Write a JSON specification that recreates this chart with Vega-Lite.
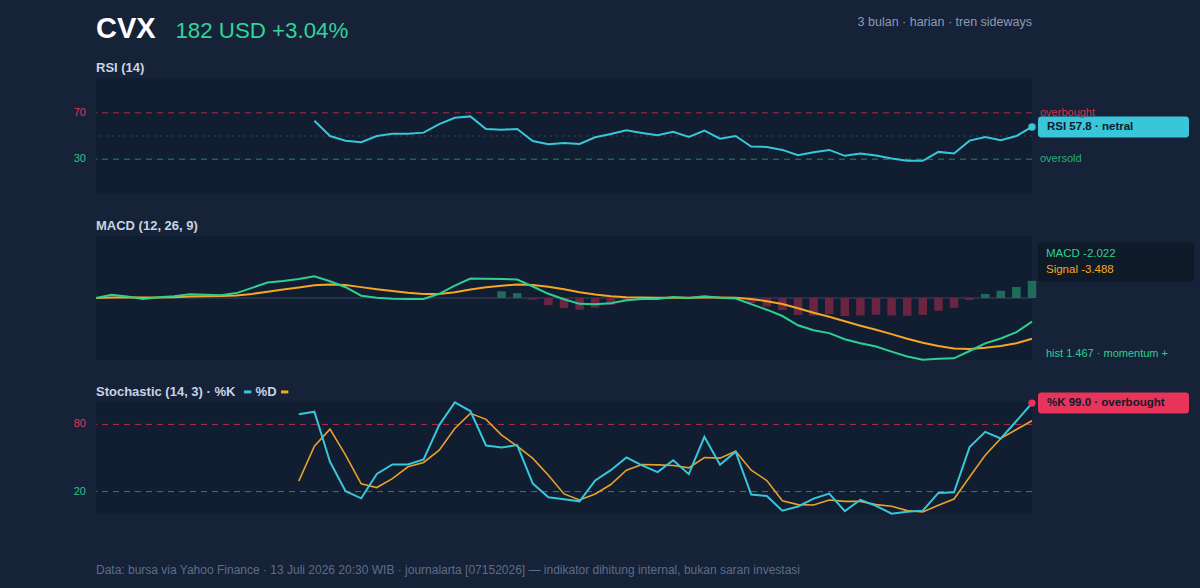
{
  "$schema": "https://vega.github.io/schema/vega-lite/v6.json",
  "autosize": {"type": "none"},
  "padding": {"left": 96, "top": 78, "right": 1104, "bottom": 510},
  "background": "#152238",
  "bounds": "flush",
  "spacing": 42,
  "config": {"view": {"fill": "#111d30", "stroke": null}, "font": "Liberation Sans", "text": {"font": "Liberation Sans"}, "scale": {"continuousPadding": 0}},
  "datasets": {
    "s": [
      {"i":0,"rsi":null,"macd":0,"signal":0,"hist":null,"k":null,"d":null},
      {"i":1,"rsi":null,"macd":0.28,"signal":0.05,"hist":null,"k":null,"d":null},
      {"i":2,"rsi":null,"macd":0.12,"signal":0.07,"hist":null,"k":null,"d":null},
      {"i":3,"rsi":null,"macd":-0.08,"signal":0.04,"hist":null,"k":null,"d":null},
      {"i":4,"rsi":null,"macd":0.06,"signal":0.05,"hist":null,"k":null,"d":null},
      {"i":5,"rsi":null,"macd":0.15,"signal":0.07,"hist":null,"k":null,"d":null},
      {"i":6,"rsi":null,"macd":0.32,"signal":0.12,"hist":null,"k":null,"d":null},
      {"i":7,"rsi":null,"macd":0.28,"signal":0.15,"hist":null,"k":null,"d":null},
      {"i":8,"rsi":null,"macd":0.24,"signal":0.17,"hist":null,"k":null,"d":null},
      {"i":9,"rsi":null,"macd":0.42,"signal":0.22,"hist":null,"k":null,"d":null},
      {"i":10,"rsi":null,"macd":0.87,"signal":0.35,"hist":null,"k":null,"d":null},
      {"i":11,"rsi":null,"macd":1.33,"signal":0.54,"hist":null,"k":null,"d":null},
      {"i":12,"rsi":null,"macd":1.45,"signal":0.72,"hist":null,"k":null,"d":null},
      {"i":13,"rsi":null,"macd":1.62,"signal":0.9,"hist":null,"k":89,"d":29.3},
      {"i":14,"rsi":63.1,"macd":1.85,"signal":1.09,"hist":null,"k":91.3,"d":60.6},
      {"i":15,"rsi":50,"macd":1.43,"signal":1.16,"hist":null,"k":46.6,"d":75.8},
      {"i":16,"rsi":46,"macd":0.92,"signal":1.11,"hist":null,"k":20.3,"d":52.5},
      {"i":17,"rsi":44.6,"macd":0.2,"signal":0.93,"hist":null,"k":14,"d":26.9},
      {"i":18,"rsi":50,"macd":0.03,"signal":0.75,"hist":null,"k":35.8,"d":23.6},
      {"i":19,"rsi":52,"macd":-0.06,"signal":0.59,"hist":null,"k":44.2,"d":31.6},
      {"i":20,"rsi":52,"macd":-0.08,"signal":0.45,"hist":null,"k":44.2,"d":42.1},
      {"i":21,"rsi":52.9,"macd":-0.08,"signal":0.35,"hist":null,"k":48.7,"d":46},
      {"i":22,"rsi":60.3,"macd":0.36,"signal":0.35,"hist":null,"k":79.4,"d":57},
      {"i":23,"rsi":65.7,"macd":1.06,"signal":0.49,"hist":null,"k":99.7,"d":76.4},
      {"i":24,"rsi":66.9,"macd":1.66,"signal":0.73,"hist":null,"k":91.9,"d":89.9},
      {"i":25,"rsi":56,"macd":1.65,"signal":0.91,"hist":null,"k":61.2,"d":84.5},
      {"i":26,"rsi":55.4,"macd":1.62,"signal":1.05,"hist":0.57,"k":59.4,"d":70.4},
      {"i":27,"rsi":56,"macd":1.58,"signal":1.16,"hist":0.42,"k":61.5,"d":60.6},
      {"i":28,"rsi":45.7,"macd":0.98,"signal":1.12,"hist":-0.14,"k":27.2,"d":49.6},
      {"i":29,"rsi":42.9,"macd":0.36,"signal":0.97,"hist":-0.61,"k":14.9,"d":34.6},
      {"i":30,"rsi":44,"macd":-0.11,"signal":0.75,"hist":-0.86,"k":13.1,"d":17.9},
      {"i":31,"rsi":43.1,"macd":-0.5,"signal":0.5,"hist":-1.0,"k":11.3,"d":12.5},
      {"i":32,"rsi":48.9,"macd":-0.54,"signal":0.29,"hist":-0.83,"k":29.9,"d":17.9},
      {"i":33,"rsi":51.7,"macd":-0.45,"signal":0.14,"hist":-0.59,"k":39.1,"d":26.3},
      {"i":34,"rsi":54.9,"macd":-0.2,"signal":0.07,"hist":-0.27,"k":50.5,"d":39.1},
      {"i":35,"rsi":52.6,"macd":-0.08,"signal":0.04,"hist":-0.12,"k":43.4,"d":44.2},
      {"i":36,"rsi":50.6,"macd":-0.08,"signal":0.02,"hist":-0.1,"k":37.4,"d":43.9},
      {"i":37,"rsi":53.7,"macd":0.08,"signal":0.03,"hist":0.05,"k":48,"d":43.3},
      {"i":38,"rsi":49.1,"macd":0,"signal":0.02,"hist":-0.02,"k":35.6,"d":41.2},
      {"i":39,"rsi":54.6,"macd":0.15,"signal":0.05,"hist":0.1,"k":68.9,"d":50.4},
      {"i":40,"rsi":47.7,"macd":0.02,"signal":0.04,"hist":-0.02,"k":44,"d":49.9},
      {"i":41,"rsi":50,"macd":-0.04,"signal":0.03,"hist":-0.07,"k":55.7,"d":56.1},
      {"i":42,"rsi":40.9,"macd":-0.52,"signal":-0.08,"hist":-0.44,"k":17.4,"d":39.1},
      {"i":43,"rsi":40.6,"macd":-1.0,"signal":-0.27,"hist":-0.73,"k":16,"d":29.9},
      {"i":44,"rsi":38,"macd":-1.54,"signal":-0.52,"hist":-1.02,"k":2.9,"d":11.9},
      {"i":45,"rsi":33.4,"macd":-2.33,"signal":-0.88,"hist":-1.45,"k":6.7,"d":8.4},
      {"i":46,"rsi":36,"macd":-2.76,"signal":-1.26,"hist":-1.5,"k":13.7,"d":8.1},
      {"i":47,"rsi":38,"macd":-3.0,"signal":-1.61,"hist":-1.39,"k":18.2,"d":12.5},
      {"i":48,"rsi":32.9,"macd":-3.53,"signal":-1.99,"hist":-1.54,"k":2.6,"d":11.3},
      {"i":49,"rsi":34.9,"macd":-3.86,"signal":-2.37,"hist":-1.49,"k":12.7,"d":11.3},
      {"i":50,"rsi":33.1,"macd":-4.15,"signal":-2.72,"hist":-1.43,"k":7.3,"d":8.4},
      {"i":51,"rsi":30.6,"macd":-4.58,"signal":-3.09,"hist":-1.49,"k":0.3,"d":6.9},
      {"i":52,"rsi":28.6,"macd":-5.0,"signal":-3.48,"hist":-1.52,"k":2,"d":3},
      {"i":53,"rsi":28.6,"macd":-5.27,"signal":-3.83,"hist":-1.44,"k":3,"d":1.8},
      {"i":54,"rsi":36.3,"macd":-5.2,"signal":-4.11,"hist":-1.09,"k":18.8,"d":7.8},
      {"i":55,"rsi":34.9,"macd":-5.16,"signal":-4.32,"hist":-0.84,"k":19.4,"d":13.4},
      {"i":56,"rsi":46,"macd":-4.53,"signal":-4.36,"hist":-0.17,"k":59.7,"d":33.1},
      {"i":57,"rsi":49.1,"macd":-3.88,"signal":-4.26,"hist":0.34,"k":73.3,"d":52.5},
      {"i":58,"rsi":46.3,"macd":-3.46,"signal":-4.1,"hist":0.62,"k":67.4,"d":67.5},
      {"i":59,"rsi":50,"macd":-2.92,"signal":-3.87,"hist":0.94,"k":83,"d":75.5},
      {"i":60,"rsi":57.8,"macd":-2.022,"signal":-3.488,"hist":1.467,"k":99,"d":83.3}
    ]
  },
  "vconcat": [
    {
      "width": 936,
      "height": 116,
      "layer": [
        {
          "data": {"values": [{"level": 70}, {"level": 30}]},
          "mark": {"type": "rule", "strokeDash": [6, 5], "strokeWidth": 1},
          "encoding": {
            "y": {"field": "level", "type": "quantitative", "scale": {"domain": [0, 100], "nice": false, "zero": false}, "axis": null},
            "stroke": {"condition": {"test": "datum.level > 50", "value": "#a82d4b"}, "value": "#1f8a66"}
          }
        },
        {
          "data": {"values": [{"level": 50}]},
          "mark": {"type": "rule", "strokeDash": [2, 4], "strokeWidth": 1.5, "stroke": "#2c3b52"},
          "encoding": {"y": {"field": "level", "type": "quantitative", "axis": null}}
        },
        {
          "data": {"name": "s"},
          "mark": {"type": "line", "stroke": "#38c6d8", "strokeWidth": 2},
          "encoding": {
            "x": {"field": "i", "type": "quantitative", "scale": {"domain": [0, 60], "nice": false, "zero": false}, "axis": null},
            "y": {"field": "rsi", "type": "quantitative", "axis": null}
          }
        },
        {
          "data": {"name": "s"},
          "transform": [{"filter": "datum.i == 60"}],
          "mark": {"type": "circle", "size": 55, "fill": "#38c6d8", "opacity": 1},
          "encoding": {
            "x": {"field": "i", "type": "quantitative", "axis": null},
            "y": {"field": "rsi", "type": "quantitative", "axis": null}
          }
        },
        {
          "data": {"values": [{"i": 60, "rsi": 57.8, "label": "RSI 57.8 · netral"}]},
          "mark": {"type": "point", "shape": "M0.9,-1.05H15.4A0.3,0.3,0,0,1,15.7,-0.75V0.75A0.3,0.3,0,0,1,15.4,1.05H0.9A0.3,0.3,0,0,1,0.6,0.75V-0.75A0.3,0.3,0,0,1,0.9,-1.05Z", "size": 400, "filled": true, "fill": "#38c6d8", "opacity": 1, "strokeWidth": 0},
          "encoding": {
            "x": {"field": "i", "type": "quantitative", "axis": null},
            "y": {"field": "rsi", "type": "quantitative", "axis": null}
          }
        },
        {
          "data": {"values": [{"i": 60, "rsi": 57.8, "label": "RSI 57.8 · netral"}]},
          "mark": {"type": "text", "align": "left", "baseline": "middle", "dx": 15, "fontSize": 11.5, "fontWeight": "bold", "fill": "#0e1a2b"},
          "encoding": {
            "x": {"field": "i", "type": "quantitative", "axis": null},
            "y": {"field": "rsi", "type": "quantitative", "axis": null},
            "text": {"field": "label"}
          }
        },
        {
          "data": {"values": [{"level": 70, "label": "overbought"}, {"level": 30, "label": "oversold"}]},
          "mark": {"type": "text", "align": "left", "baseline": "middle", "dx": 8, "fontSize": 11},
          "encoding": {
            "x": {"datum": 60},
            "y": {"field": "level", "type": "quantitative", "axis": null},
            "text": {"field": "label"},
            "fill": {"condition": {"test": "datum.level > 50", "value": "#d3334f"}, "value": "#2aae7c"}
          }
        },
        {
          "data": {"values": [{"level": 70, "label": "70"}, {"level": 30, "label": "30"}]},
          "mark": {"type": "text", "align": "right", "baseline": "middle", "dx": -10, "fontSize": 11},
          "encoding": {
            "x": {"datum": 0},
            "y": {"field": "level", "type": "quantitative", "axis": null},
            "text": {"field": "label"},
            "fill": {"condition": {"test": "datum.level > 50", "value": "#e0365a"}, "value": "#2ec28a"}
          }
        },
        {
          "data": {"values": [{"t": "CVX"}]},
          "mark": {"type": "text", "align": "left", "baseline": "alphabetic", "fontSize": 29, "fontWeight": "bold", "fill": "#ffffff"},
          "encoding": {"x": {"datum": 0}, "y": {"datum": 134.7}, "text": {"field": "t"}}
        },
        {
          "data": {"values": [{"t": "182 USD +3.04%"}]},
          "mark": {"type": "text", "align": "left", "baseline": "alphabetic", "fontSize": 22.3, "fill": "#34d399"},
          "encoding": {"x": {"datum": 5.09}, "y": {"datum": 134.7}, "text": {"field": "t"}}
        },
        {
          "data": {"values": [{"t": "3 bulan · harian · tren sideways"}]},
          "mark": {"type": "text", "align": "right", "baseline": "alphabetic", "fontSize": 12.5, "fill": "#8d9bb2"},
          "encoding": {"x": {"datum": 60}, "y": {"datum": 144.8}, "text": {"field": "t"}}
        },
        {
          "data": {"values": [{"t": "RSI (14)"}]},
          "mark": {"type": "text", "align": "left", "baseline": "alphabetic", "fontSize": 13, "fontWeight": "bold", "fill": "#c9d3e3"},
          "encoding": {"x": {"datum": 0}, "y": {"datum": 105.2}, "text": {"field": "t"}}
        }
      ]
    },
    {
      "width": 936,
      "height": 124,
      "layer": [
        {
          "data": {"values": [{"z": 0}]},
          "mark": {"type": "rule", "stroke": "#2a3a52", "strokeWidth": 1.5},
          "encoding": {"y": {"field": "z", "type": "quantitative", "scale": {"domain": [-5.3, 5.3], "nice": false, "zero": false}, "axis": null}}
        },
        {
          "data": {"name": "s"},
          "transform": [{"filter": "datum.hist != null"}],
          "mark": {"type": "bar", "size": 8.5},
          "encoding": {
            "x": {"field": "i", "type": "quantitative", "scale": {"domain": [0, 60], "nice": false, "zero": false}, "axis": null},
            "y": {"field": "hist", "type": "quantitative", "axis": null},
            "y2": {"datum": 0},
            "fill": {"condition": {"test": "datum.hist > 0", "value": "#1f6c5b"}, "value": "#6a2641"}
          }
        },
        {
          "data": {"name": "s"},
          "mark": {"type": "line", "stroke": "#f5a623", "strokeWidth": 2},
          "encoding": {
            "x": {"field": "i", "type": "quantitative", "axis": null},
            "y": {"field": "signal", "type": "quantitative", "axis": null}
          }
        },
        {
          "data": {"name": "s"},
          "mark": {"type": "line", "stroke": "#2fcf91", "strokeWidth": 2},
          "encoding": {
            "x": {"field": "i", "type": "quantitative", "axis": null},
            "y": {"field": "macd", "type": "quantitative", "axis": null}
          }
        },
        {
          "data": {"values": [{"box": "legend"}]},
          "mark": {"type": "rect", "fill": "#0f1a29", "cornerRadius": 3},
          "encoding": {"x": {"datum": 60.385}, "x2": {"datum": 70.385}, "y": {"datum": 4.76}, "y2": {"datum": 1.39}}
        },
        {
          "data": {"values": [{"t": "MACD -2.022"}]},
          "mark": {"type": "text", "align": "left", "baseline": "middle", "dx": 14, "fontSize": 11.5, "fill": "#2fcf91"},
          "encoding": {"x": {"datum": 60}, "y": {"datum": 3.76}, "text": {"field": "t"}}
        },
        {
          "data": {"values": [{"t": "Signal -3.488"}]},
          "mark": {"type": "text", "align": "left", "baseline": "middle", "dx": 14, "fontSize": 11.5, "fill": "#f5a623"},
          "encoding": {"x": {"datum": 60}, "y": {"datum": 2.39}, "text": {"field": "t"}}
        },
        {
          "data": {"values": [{"t": "hist 1.467 · momentum +"}]},
          "mark": {"type": "text", "align": "left", "baseline": "middle", "dx": 14, "fontSize": 11, "fill": "#2fcf91"},
          "encoding": {"x": {"datum": 60}, "y": {"datum": -4.81}, "text": {"field": "t"}}
        },
        {
          "data": {"values": [{"t": "MACD (12, 26, 9)"}]},
          "mark": {"type": "text", "align": "left", "baseline": "alphabetic", "fontSize": 13, "fontWeight": "bold", "fill": "#c9d3e3"},
          "encoding": {"x": {"datum": 0}, "y": {"datum": 5.81}, "text": {"field": "t"}}
        }
      ]
    },
    {
      "width": 936,
      "height": 112,
      "layer": [
        {
          "data": {"values": [{"level": 80}, {"level": 20}]},
          "mark": {"type": "rule", "strokeDash": [6, 5], "strokeWidth": 1},
          "encoding": {
            "y": {"field": "level", "type": "quantitative", "scale": {"domain": [0, 100], "nice": false, "zero": false}, "axis": null},
            "stroke": {"condition": {"test": "datum.level > 50", "value": "#b8304f"}, "value": "#1f8a66"}
          }
        },
        {
          "data": {"name": "s"},
          "mark": {"type": "line", "stroke": "#e8a22c", "strokeWidth": 1.6},
          "encoding": {
            "x": {"field": "i", "type": "quantitative", "scale": {"domain": [0, 60], "nice": false, "zero": false}, "axis": null},
            "y": {"field": "d", "type": "quantitative", "axis": null}
          }
        },
        {
          "data": {"name": "s"},
          "mark": {"type": "line", "stroke": "#38c6d8", "strokeWidth": 2},
          "encoding": {
            "x": {"field": "i", "type": "quantitative", "axis": null},
            "y": {"field": "k", "type": "quantitative", "axis": null}
          }
        },
        {
          "data": {"name": "s"},
          "transform": [{"filter": "datum.i == 60"}],
          "mark": {"type": "circle", "size": 55, "fill": "#e8345a", "opacity": 1},
          "encoding": {
            "x": {"field": "i", "type": "quantitative", "axis": null},
            "y": {"field": "k", "type": "quantitative", "axis": null}
          }
        },
        {
          "data": {"values": [{"i": 60, "k": 99.0, "label": "%K 99.0 · overbought"}]},
          "mark": {"type": "point", "shape": "M0.9,-1.05H15.4A0.3,0.3,0,0,1,15.7,-0.75V0.75A0.3,0.3,0,0,1,15.4,1.05H0.9A0.3,0.3,0,0,1,0.6,0.75V-0.75A0.3,0.3,0,0,1,0.9,-1.05Z", "size": 400, "filled": true, "fill": "#e8345a", "opacity": 1, "strokeWidth": 0},
          "encoding": {
            "x": {"field": "i", "type": "quantitative", "axis": null},
            "y": {"field": "k", "type": "quantitative", "axis": null}
          }
        },
        {
          "data": {"values": [{"i": 60, "k": 99.0, "label": "%K 99.0 · overbought"}]},
          "mark": {"type": "text", "align": "left", "baseline": "middle", "dx": 15, "fontSize": 11.5, "fontWeight": "bold", "fill": "#0e1a2b"},
          "encoding": {
            "x": {"field": "i", "type": "quantitative", "axis": null},
            "y": {"field": "k", "type": "quantitative", "axis": null},
            "text": {"field": "label"}
          }
        },
        {
          "data": {"values": [{"level": 80, "label": "80"}, {"level": 20, "label": "20"}]},
          "mark": {"type": "text", "align": "right", "baseline": "middle", "dx": -10, "fontSize": 11},
          "encoding": {
            "x": {"datum": 0},
            "y": {"field": "level", "type": "quantitative", "axis": null},
            "text": {"field": "label"},
            "fill": {"condition": {"test": "datum.level > 50", "value": "#e0365a"}, "value": "#2ec28a"}
          }
        },
        {
          "data": {"values": [{"t": "Stochastic (14, 3) · %K"}]},
          "mark": {"type": "text", "align": "left", "baseline": "alphabetic", "fontSize": 13, "fontWeight": "bold", "fill": "#c9d3e3"},
          "encoding": {"x": {"datum": 0}, "y": {"datum": 105}, "text": {"field": "t"}}
        },
        {
          "data": {"values": [{"t": "%D"}]},
          "mark": {"type": "text", "align": "left", "baseline": "alphabetic", "fontSize": 13, "fontWeight": "bold", "fill": "#c9d3e3"},
          "encoding": {"x": {"datum": 10.23}, "y": {"datum": 105}, "text": {"field": "t"}}
        },
        {
          "data": {"values": [{"series": "%K"}]},
          "mark": {"type": "rule", "stroke": "#38c6d8", "strokeWidth": 3},
          "encoding": {"x": {"datum": 9.49}, "x2": {"datum": 9.96}, "y": {"datum": 109}}
        },
        {
          "data": {"values": [{"series": "%D"}]},
          "mark": {"type": "rule", "stroke": "#f5a623", "strokeWidth": 3},
          "encoding": {"x": {"datum": 11.86}, "x2": {"datum": 12.33}, "y": {"datum": 109}}
        },
        {
          "data": {"values": [{"t": "Data: bursa via Yahoo Finance · 13 Juli 2026 20:30 WIB · journalarta [07152026] — indikator dihitung internal, bukan saran investasi"}]},
          "mark": {"type": "text", "align": "left", "baseline": "alphabetic", "fontSize": 12, "fill": "#5d6d88"},
          "encoding": {"x": {"datum": 0}, "y": {"datum": -53.3}, "text": {"field": "t"}}
        }
      ]
    }
  ]
}
